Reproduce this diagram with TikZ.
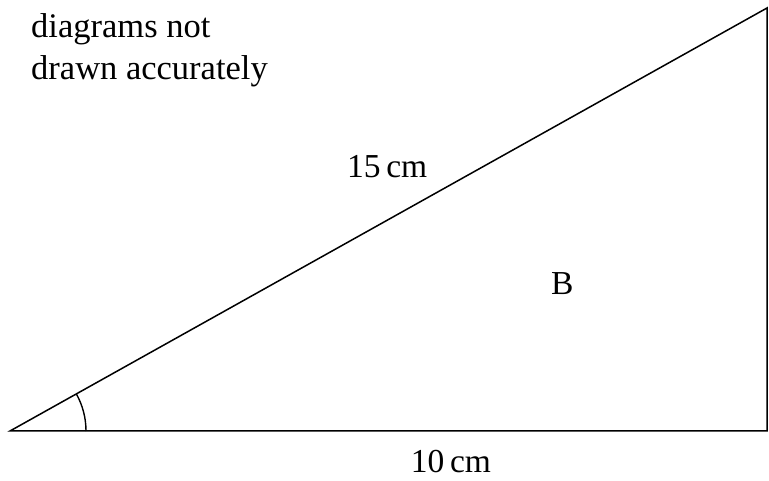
\documentclass[tikz,border=0pt]{standalone}
\usepackage{fontspec}
\setmainfont{Liberation Serif}
\begin{document}
\begin{tikzpicture}[x=1pt,y=1pt,
  edge/.style={line width=1.5pt, line join=miter},
  note/.style={anchor=base west, inner sep=0pt, font=\fontsize{34.5}{40}\selectfont},
  lbl/.style={inner sep=0pt, font=\fontsize{33.5}{40}\selectfont}]
\useasboundingbox (0,0) rectangle (769,481);
\coordinate (A) at (10,50);
\coordinate (C) at (767,50);
\coordinate (T) at (767,473);
\draw[edge] (A) -- (C) -- (T) -- cycle;
\draw[line width=1.4pt] ([shift={(0:76)}]A) arc[start angle=0, end angle=29.2, radius=76];
\node[note] (n1) at (31,443) {diagrams not};
\node[note] (n2) at (31,401) {drawn accurately};
\node[lbl, anchor=base west] (h) at (347,303) {15\,cm};
\node[lbl, anchor=base] (b) at (451,8) {10\,cm};
\node[lbl, anchor=base west] (B) at (551,186) {B};
\end{tikzpicture}
\end{document}
